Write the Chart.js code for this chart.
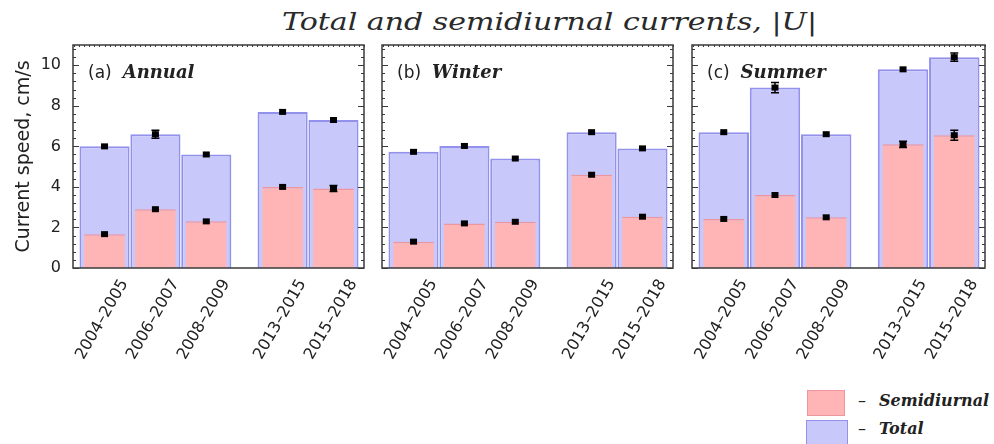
<!DOCTYPE html>
<html>
<head>
<meta charset="utf-8">
<script src="https://cdn.jsdelivr.net/npm/chart.js@4.4.1/dist/chart.umd.min.js"></script>
<style>
  html, body { margin: 0; padding: 0; background: #fff; }
  body { width: 994px; height: 444px; position: relative; overflow: hidden; }
  canvas { position: absolute; }
  #title { position: absolute; top: 7px; left: 0; white-space: nowrap; transform-origin: 0 50%;
           font-family: "DejaVu Serif", serif; font-style: italic; font-size: 24px;
           line-height: 30px; color: #2a2a2a; }
  .legbox { position: absolute; box-sizing: border-box; }
  .legtxt { position: absolute; font-family: "DejaVu Serif", serif; font-style: italic; font-weight: bold;
            font-size: 16px; line-height: 20px; color: #222; white-space: nowrap; }
  .legtxt .dash { font-family: "DejaVu Sans", sans-serif; font-style: normal; font-weight: normal;
                  display: inline-block; width: 21px; }
</style>
</head>
<body>
<div id="title">Total and semidiurnal currents, |<i>U</i>|</div>
<canvas id="pa" width="374" height="335" style="left:0px;top:35px"></canvas>
<canvas id="pb" width="331" height="335" style="left:352px;top:35px"></canvas>
<canvas id="pc" width="332" height="335" style="left:662px;top:35px"></canvas>
<div id="legend"></div>
<script>
// ---------------- data ----------------
const categories = ['2004\u20132005', '2006\u20132007', '2008\u20132009', '2013\u20132015', '2015\u20132018'];
const panelTags  = ['(a)', '(b)', '(c)'];
const panelNames = ['Annual', 'Winter', 'Summer'];
const yTicks = [0, 2, 4, 6, 8, 10];

const totalAnnual    = [6.0, 6.6, 5.6, 7.7, 7.3];
const semiAnnual     = [1.67, 2.9, 2.3, 4.0, 3.92];
const totalAnnualErr = [0.05, 0.2, 0.05, 0.05, 0.05];
const semiAnnualErr  = [0.05, 0.05, 0.05, 0.05, 0.15];

const totalWinter    = [5.73, 6.02, 5.4, 6.7, 5.9];
const semiWinter     = [1.3, 2.2, 2.28, 4.6, 2.53];
const totalWinterErr = [0.05, 0.05, 0.05, 0.05, 0.05];
const semiWinterErr  = [0.05, 0.05, 0.05, 0.05, 0.05];

const totalSummer    = [6.7, 8.9, 6.6, 9.8, 10.4];
const semiSummer     = [2.42, 3.6, 2.5, 6.1, 6.55];
const totalSummerErr = [0.05, 0.25, 0.05, 0.05, 0.2];
const semiSummerErr  = [0.05, 0.05, 0.05, 0.15, 0.25];

const yLabel = 'Current speed, cm/s';
const semiLabel = 'Semidiurnal';
const totalLabel = 'Total';

// ---------------- style ----------------
const semiFill = 'rgb(255,180,182)', semiLine = 'rgb(238,150,158)';
const totalFill = 'rgb(200,200,251)', totalLine = 'rgb(146,146,236)';
const frameColor = '#3a3a3a';

// x positions: one slot per period, with a half-slot gap between the two groups
const xPos = categories.map((_, i) => i + (i >= 3 ? 0.5 : 0));
const X_MIN = -0.62, X_MAX = 5.1;

const framePlugin = {
  id: 'frame',
  afterDatasetsDraw(chart) {
    const { ctx, chartArea: a, scales: { x, y } } = chart;
    ctx.save();
    ctx.strokeStyle = frameColor;
    ctx.lineWidth = 1;
    ctx.beginPath();
    for (let k = 0; k <= 27; k++) {
      const v = k * 0.4;
      if (v > y.max) break;
      const py = Math.round(y.getPixelForValue(v)) + 0.5;
      const major = Math.abs(v / 2 - Math.round(v / 2)) < 1e-6;
      const len = major ? 6 : 3;
      ctx.moveTo(a.left, py); ctx.lineTo(a.left + len, py);
      ctx.moveTo(a.right, py); ctx.lineTo(a.right - len, py);
    }
    for (let v = Math.ceil(X_MIN * 10) / 10; v <= X_MAX; v += 0.1) {
      const px = Math.round(x.getPixelForValue(v)) + 0.5;
      ctx.moveTo(px, a.top); ctx.lineTo(px, a.top + 2);
    }
    ctx.stroke();
    ctx.lineWidth = 1.5;
    ctx.strokeRect(a.left, a.top, a.right - a.left, a.bottom - a.top);
    ctx.restore();
  }
};

const errPlugin = {
  id: 'errs',
  afterDatasetsDraw(chart) {
    const { ctx, scales: { y } } = chart;
    ctx.save();
    ctx.fillStyle = '#000';
    ctx.strokeStyle = '#000';
    ctx.lineWidth = 1.5;
    chart.data.datasets.forEach((ds, di) => {
      const meta = chart.getDatasetMeta(di);
      meta.data.forEach((el, i) => {
        const v = ds.data[i].y, e = ds.errors[i];
        const px = el.x, py = y.getPixelForValue(v);
        const t = y.getPixelForValue(v + e), b = y.getPixelForValue(v - e);
        ctx.fillRect(px - 3.5, py - 3, 7, 6);
        if (b - t > 5) {
          ctx.beginPath();
          ctx.moveTo(px, t); ctx.lineTo(px, b);
          ctx.moveTo(px - 4, t); ctx.lineTo(px + 4, t);
          ctx.moveTo(px - 4, b); ctx.lineTo(px + 4, b);
          ctx.stroke();
        }
      });
    });
    ctx.restore();
  }
};

const labelPlugin = {
  id: 'panelLabel',
  afterDraw(chart, args, opts) {
    const { ctx, chartArea: a } = chart;
    ctx.save();
    ctx.fillStyle = '#222';
    ctx.textBaseline = 'alphabetic';
    ctx.font = '17px "DejaVu Sans"';
    const x0 = a.left + 15, y0 = a.top + 33;
    ctx.fillText(opts.tag, x0, y0);
    const w = ctx.measureText(opts.tag).width;
    ctx.font = 'italic bold 18px "DejaVu Serif"';
    ctx.fillText(opts.name, x0 + w + 11, y0);
    ctx.restore();
  }
};

function makePanel(id, p, totals, semis, totErr, semiErr, leftWidth, rightPad) {
  const showY = p === 0;
  return new Chart(document.getElementById(id), {
    type: 'bar',
    data: {
      datasets: [
        { label: semiLabel, data: xPos.map((x, i) => ({ x, y: semis[i] })), errors: semiErr,
          backgroundColor: semiFill, borderColor: semiLine, borderWidth: { top: 1.5, left: 0, right: 0, bottom: 0 },
          barPercentage: 0.8, categoryPercentage: 1, grouped: false },
        { label: totalLabel, data: xPos.map((x, i) => ({ x, y: totals[i] })), errors: totErr,
          backgroundColor: totalFill, borderColor: totalLine, borderWidth: 2,
          barPercentage: 0.985, categoryPercentage: 1, grouped: false }
      ]
    },
    options: {
      responsive: false,
      animation: false,
      events: [],
      layout: { padding: { top: 10, right: rightPad, left: 0, bottom: 0 } },
      plugins: {
        legend: { display: false },
        tooltip: { enabled: false },
        panelLabel: { tag: panelTags[p], name: panelNames[p] }
      },
      scales: {
        x: {
          type: 'linear', min: X_MIN, max: X_MAX, offset: false,
          grid: { display: false, drawTicks: false },
          border: { display: false },
          afterBuildTicks: s => { s.ticks = xPos.map(v => ({ value: v })); },
          afterFit: s => { s.height = 102; },
          ticks: {
            autoSkip: false, minRotation: 60, maxRotation: 60, padding: 8, labelOffset: 20,
            color: '#222', font: { family: 'DejaVu Sans', size: 16 },
            callback: (v, i) => categories[i]
          }
        },
        y: {
          min: 0, max: 11,
          grid: { display: false, drawTicks: false },
          border: { display: false },
          afterBuildTicks: s => { s.ticks = yTicks.map(v => ({ value: v })); },
          afterFit: s => { s.width = leftWidth; s.paddingTop = 0; s.paddingBottom = 0; },
          ticks: { display: showY, padding: 12, color: '#222', font: { family: 'DejaVu Sans', size: 16 } },
          title: { display: showY, text: yLabel, color: '#222', padding: { top: 13, bottom: 0 },
                   font: { family: 'DejaVu Sans', size: 19 } }
        }
      }
    },
    plugins: [framePlugin, errPlugin, labelPlugin]
  });
}

const ca = makePanel('pa', 0, totalAnnual, semiAnnual, totalAnnualErr, semiAnnualErr, 73, 10);
makePanel('pb', 1, totalWinter, semiWinter, totalWinterErr, semiWinterErr, 30, 10);
makePanel('pc', 2, totalSummer, semiSummer, totalSummerErr, semiSummerErr, 30, 9);

// title: widen the glyphs to the reference width, centered over the panels
(function () {
  const t = document.getElementById('title');
  const w = t.getBoundingClientRect().width;
  const target = 535;
  const sx = target / w;
  t.style.left = (549.5 - target / 2) + 'px';
  t.style.transform = 'scaleX(' + sx + ')';
})();

// legend built from the dataset definitions
(function () {
  const leg = document.getElementById('legend');
  const ds = ca.data.datasets;
  const rows = [{ top: 390, h: 26, w: 38, left: 807, ty: 391 }, { top: 420, h: 30, w: 42, left: 806, ty: 419 }];
  ds.forEach((d, i) => {
    const r = rows[i];
    const box = document.createElement('div');
    box.className = 'legbox';
    box.style.cssText = `left:${r.left}px;top:${r.top}px;width:${r.w}px;height:${r.h}px;background:${d.backgroundColor};border:1.5px solid ${d.borderColor}`;
    leg.appendChild(box);
    const txt = document.createElement('div');
    txt.className = 'legtxt';
    txt.style.left = '858px';
    txt.style.top = r.ty + 'px';
    txt.innerHTML = '<span class="dash">\u2013</span>' + d.label;
    leg.appendChild(txt);
  });
})();
</script>
</body>
</html>
